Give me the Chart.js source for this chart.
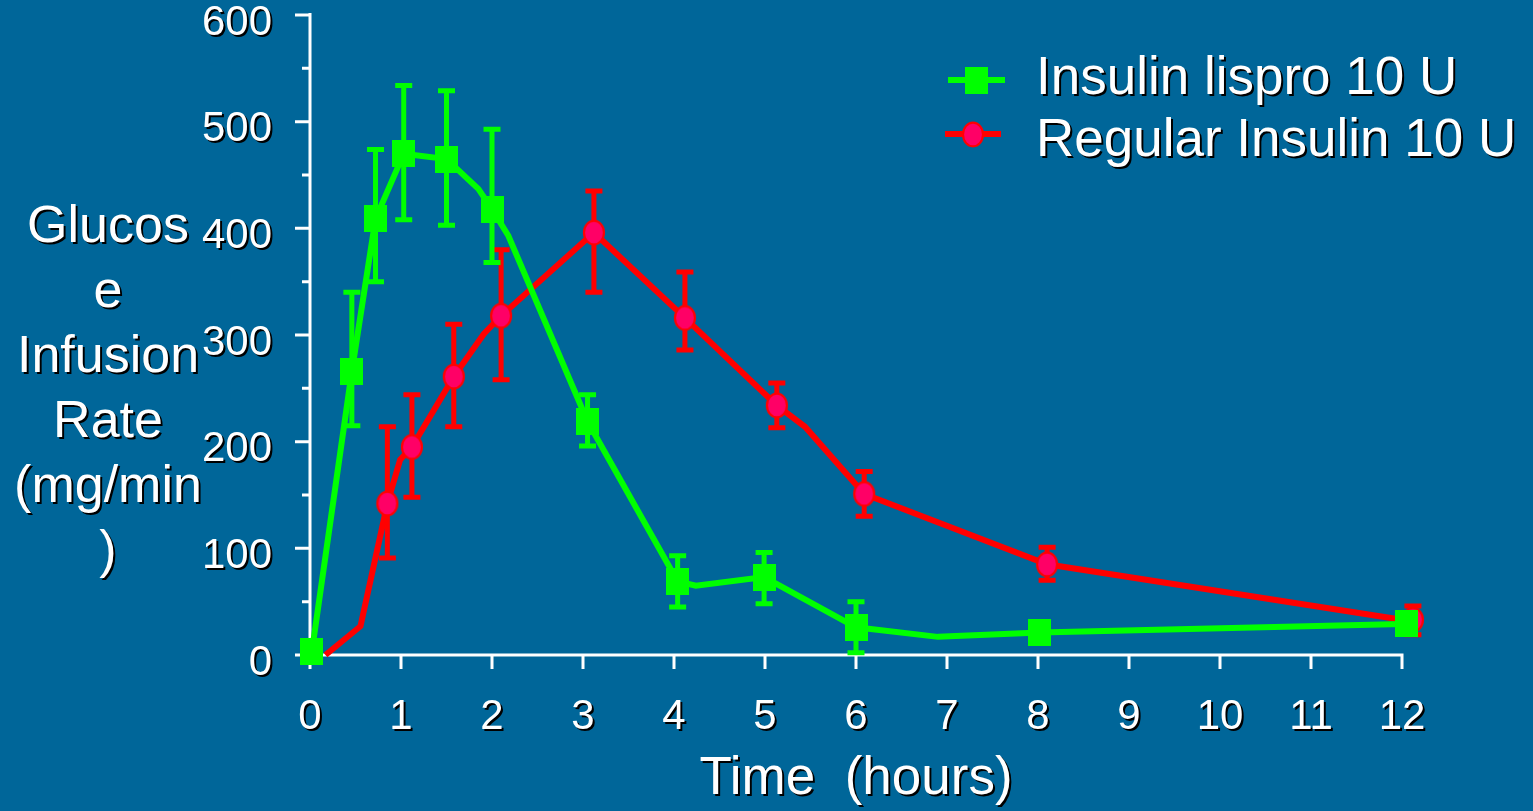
<!DOCTYPE html>
<html>
<head>
<meta charset="utf-8">
<title>Glucose infusion rate</title>
<script src="https://cdn.jsdelivr.net/npm/chart.js@4.4.1/dist/chart.umd.min.js"></script>
<style>
  html, body { margin: 0; padding: 0; background: #006699; }
  #wrap { position: relative; width: 1533px; height: 811px; }
</style>
</head>
<body>
<div id="wrap"><canvas id="chart"></canvas></div>
<script>
// measured points: time (hours), rate (mg/min), error bar ends
const lisproTime = [0.02, 0.46, 0.72, 1.03, 1.5, 2.0, 3.05, 4.04, 4.99, 6.0, 8.02, 12.05];
const lisproRate = [3, 266, 409, 470, 465, 418, 219, 69, 73, 26, 21, 30];
const lisproHigh = [null, 340, 474, 534, 529, 493, 244, 93, 96, 50, null, null];
const lisproLow  = [null, 215, 350, 408, 403, 368, 196, 45, 48, 2, null, null];

const regularTime = [0.85, 1.12, 1.58, 2.10, 3.12, 4.12, 5.13, 6.09, 8.10, 12.12];
const regularRate = [142, 195, 261, 318, 396, 316, 234, 151, 85, 33];
const regularHigh = [214, 244, 310, 380, 435, 359, 255, 172, 101, 46];
const regularLow  = [91, 148, 214, 258, 340, 286, 213, 130, 70, 19];

// the drawn curves bend a little between the markers
const lisproPathTime = [0.02, 0.46, 0.72, 1.03, 1.5, 1.85, 2.0, 2.18, 3.05, 4.04, 4.24, 4.99, 6.0, 6.9, 8.02, 12.0];
const lisproPathRate = [3, 266, 409, 470, 465, 437, 418, 393, 219, 69, 65, 73, 26, 17, 21, 29];
const regularPathTime = [0.17, 0.555, 0.85, 0.99, 1.12, 1.58, 1.91, 2.10, 3.12, 4.12, 5.13, 5.44, 6.09, 8.10, 12.0];
const regularPathRate = [0, 27, 142, 183, 195, 261, 301, 318, 396, 316, 234, 214, 151, 85, 33];

const seriesNames = ['Insulin lispro 10 U', 'Regular Insulin 10 U'];
const yLabelValues = [0, 100, 200, 300, 400, 500, 600];
const yTitleLines = ['Glucos', 'e', 'Infusion', 'Rate', '(mg/min', ')'];
const xTitle = 'Time  (hours)';

const FONT = "'Liberation Sans', Arial, sans-serif";
const GREEN = '#00ff00';
const RED = '#ff0000';

function toPoints(xs, ys) {
    return xs.map((x, i) => ({x: x, y: ys[i]}));
}

// marker images
const squareImg = document.createElement('canvas');
squareImg.width = 23; squareImg.height = 27;
(function () {
    const c = squareImg.getContext('2d');
    c.fillStyle = GREEN;
    c.fillRect(0, 0, 23, 27);
})();

const ovalImg = document.createElement('canvas');
ovalImg.width = 24; ovalImg.height = 27;
(function () {
    const c = ovalImg.getContext('2d');
    c.beginPath();
    c.ellipse(12, 13.5, 10, 11.8, 0, 0, Math.PI * 2);
    c.fillStyle = '#ff0066';
    c.fill();
    c.lineWidth = 2.2;
    c.strokeStyle = RED;
    c.stroke();
})();

const textShadow = {
    id: 'textShadow',
    beforeDraw(chart) {
        const ctx = chart.ctx;
        ctx.shadowColor = '#000';
        ctx.shadowOffsetX = 2;
        ctx.shadowOffsetY = 2;
        ctx.shadowBlur = 0;
    },
    beforeDatasetsDraw(chart) {
        chart.ctx.shadowColor = 'rgba(0,0,0,0)';
    }
};

const axesLines = {
    id: 'axesLines',
    beforeDatasetsDraw(chart) {
        const {ctx, scales: {x, y}} = chart;
        const x0 = x.getPixelForValue(0);
        const y0 = y.getPixelForValue(0);
        ctx.save();
        ctx.shadowColor = 'rgba(0,0,0,0)';
        ctx.strokeStyle = '#ffffff';
        ctx.lineWidth = 3;
        ctx.beginPath();
        ctx.moveTo(x0, y.getPixelForValue(600) - 2);
        ctx.lineTo(x0, y0 + 14);
        ctx.moveTo(x0 - 15, y0);
        ctx.lineTo(x.getPixelForValue(12) + 1.5, y0);
        y.ticks.forEach(t => {
            const py = y.getPixelForValue(t.value);
            const len = t.value % 100 === 0 ? 15 : 8;
            ctx.moveTo(x0 - len, py);
            ctx.lineTo(x0, py);
        });
        x.ticks.forEach(t => {
            const px = x.getPixelForValue(t.value);
            ctx.moveTo(px, y0);
            ctx.lineTo(px, y0 + 14);
        });
        ctx.stroke();
        ctx.restore();
    }
};

const errorBars = {
    id: 'errorBars',
    beforeDatasetsDraw(chart) {
        const {ctx, scales: {x, y}} = chart;
        ctx.save();
        ctx.shadowColor = 'rgba(0,0,0,0)';
        ctx.lineWidth = 5;
        chart.data.datasets.slice().reverse().forEach(ds => {
            if (!ds.errHigh) return;
            ctx.strokeStyle = ds.errColor;
            ds.data.forEach((p, i) => {
                const hi = ds.errHigh[i], lo = ds.errLow[i];
                if (hi == null) return;
                const px = x.getPixelForValue(p.x);
                const top = y.getPixelForValue(hi);
                const bot = y.getPixelForValue(lo);
                ctx.beginPath();
                ctx.moveTo(px, top); ctx.lineTo(px, bot);
                ctx.moveTo(px - 8.5, top); ctx.lineTo(px + 8.5, top);
                ctx.moveTo(px - 8.5, bot); ctx.lineTo(px + 8.5, bot);
                ctx.stroke();
            });
        });
        ctx.restore();
    }
};

const legendAndTitle = {
    id: 'legendAndTitle',
    afterDraw(chart) {
        const ctx = chart.ctx;
        const rows = [
            {color: GREEN, img: squareImg, x1: 948, x2: 1005, y: 80, textY: 79},
            {color: RED, img: ovalImg, x1: 945, x2: 1001, y: 134, textY: 141}
        ];
        ctx.save();
        ctx.shadowColor = 'rgba(0,0,0,0)';
        rows.forEach(r => {
            ctx.strokeStyle = r.color;
            ctx.lineWidth = 6;
            ctx.beginPath();
            ctx.moveTo(r.x1, r.y);
            ctx.lineTo(r.x2, r.y);
            ctx.stroke();
            const cx = (r.x1 + r.x2) / 2;
            ctx.drawImage(r.img, Math.round(cx - r.img.width / 2), Math.round(r.y - r.img.height / 2));
        });

        ctx.shadowColor = '#000';
        ctx.shadowOffsetX = 2;
        ctx.shadowOffsetY = 2;
        ctx.shadowBlur = 0;
        ctx.fillStyle = '#ffffff';
        ctx.font = '53px ' + FONT;
        ctx.textBaseline = 'middle';
        ctx.textAlign = 'left';
        seriesNames.forEach((name, i) => {
            ctx.fillText(name, 1036, rows[i].textY);
        });

        ctx.font = '52px ' + FONT;
        ctx.textAlign = 'center';
        yTitleLines.forEach((line, i) => {
            ctx.fillText(line, 108, 228 + i * 65);
        });
        ctx.restore();
    }
};

new Chart(document.getElementById('chart'), {
    type: 'scatter',
    data: {
        datasets: [
            {
                label: seriesNames[0],
                data: toPoints(lisproTime, lisproRate),
                errHigh: lisproHigh,
                errLow: lisproLow,
                errColor: GREEN,
                showLine: false,
                pointStyle: squareImg,
                pointRadius: 14,
                clip: false
            },
            {
                label: seriesNames[0] + ' curve',
                data: toPoints(lisproPathTime, lisproPathRate),
                showLine: true,
                borderColor: GREEN,
                borderWidth: 6,
                pointRadius: 0,
                clip: false
            },
            {
                label: seriesNames[1],
                data: toPoints(regularTime, regularRate),
                errHigh: regularHigh,
                errLow: regularLow,
                errColor: RED,
                showLine: false,
                pointStyle: ovalImg,
                pointRadius: 14,
                clip: false
            },
            {
                label: seriesNames[1] + ' curve',
                data: toPoints(regularPathTime, regularPathRate),
                showLine: true,
                borderColor: RED,
                borderWidth: 6,
                pointRadius: 0,
                clip: false
            }
        ]
    },
    options: {
        responsive: true,
        maintainAspectRatio: false,
        animation: false,
        events: [],
        layout: { padding: { left: 0, top: 15, right: 131, bottom: 0 } },
        plugins: {
            legend: { display: false },
            tooltip: { enabled: false }
        },
        scales: {
            x: {
                type: 'linear',
                min: 0,
                max: 12,
                grid: { display: false, drawTicks: false },
                border: { display: false },
                ticks: {
                    stepSize: 1,
                    autoSkip: false,
                    maxRotation: 0,
                    color: '#ffffff',
                    font: { family: FONT, size: 42 },
                    padding: 37
                },
                title: {
                    display: true,
                    text: xTitle,
                    color: '#ffffff',
                    font: { family: FONT, size: 53 },
                    padding: 0
                },
                afterFit(s) {
                    s.height = 156;
                    s.paddingLeft = 0;
                    s.paddingRight = 0;
                }
            },
            y: {
                type: 'linear',
                min: 0,
                max: 600,
                grid: { display: false, drawTicks: false },
                border: { display: false },
                ticks: {
                    stepSize: 50,
                    autoSkip: false,
                    color: '#ffffff',
                    font: { family: FONT, size: 42 },
                    padding: 38,
                    labelOffset: 8,
                    callback: v => yLabelValues.includes(v) ? String(v) : ''
                },
                afterFit(s) {
                    s.width = 310;
                    s.paddingTop = 0;
                    s.paddingBottom = 0;
                }
            }
        }
    },
    plugins: [textShadow, axesLines, errorBars, legendAndTitle]
});
</script>
</body>
</html>
